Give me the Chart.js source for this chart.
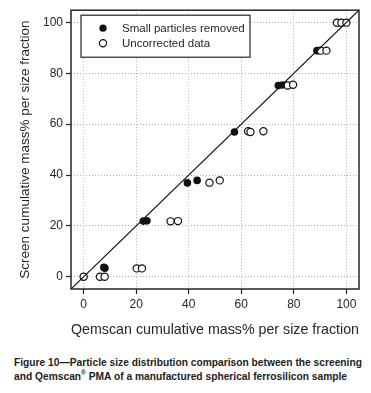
<!DOCTYPE html>
<html>
<head>
<meta charset="utf-8">
<script src="https://cdn.jsdelivr.net/npm/chart.js@4/dist/chart.umd.min.js"></script>
<style>
    html, body { margin: 0; padding: 0; background: #fff; }
    #wrap { position: relative; width: 371px; height: 393px; overflow: hidden; }
    #chart { position: absolute; left: 0; top: 0; }
    .caption {
        position: absolute; left: 14px; white-space: nowrap;
        font: bold 11px "Liberation Sans", Arial, sans-serif; color: #222;
        transform: scaleX(0.93); transform-origin: left top;
    }
</style>
</head>
<body>
<div id="wrap">
    <canvas id="chart" width="371" height="345"></canvas>
    <div class="caption" style="top:356px">Figure 10—Particle size distribution comparison between the screening</div>
    <div class="caption" style="top:370px">and Qemscan<sup style="font-size:7px;line-height:0">®</sup> PMA of a manufactured spherical ferrosilicon sample</div>
</div>
<script>
/** ── Données ──────────────────────────────────────────────────────── */
const TICKS = [0, 20, 40, 60, 80, 100];
const AXIS_MIN = -4.8;
const AXIS_MAX = 104.8;

// Small particles removed (points pleins)
const removedX = [0, 7.7, 8.1, 22.7, 24.1, 39.5, 43.2, 57.4, 74.1, 75.7, 88.8, 89.6, 96.4, 98.1];
const removedY = [0, 3.7, 3.4, 21.9, 22.0, 36.9, 37.9, 56.9, 75.2, 75.4, 88.9, 88.9, 99.9, 99.9];

// Uncorrected data (cercles vides)
const rawX = [0, 6.2, 8.0, 20.2, 22.2, 33.1, 35.9, 47.9, 51.8, 62.6, 63.5, 68.4, 77.7, 79.7, 90.3, 92.4, 96.4, 98.1, 100];
const rawY = [0, 0, 0, 3.3, 3.3, 21.8, 21.9, 37.0, 37.9, 57.2, 56.9, 57.2, 75.2, 75.5, 88.9, 88.9, 99.9, 99.9, 99.9];

const LABELS = ['Small particles removed', 'Uncorrected data'];
const X_TITLE = 'Qemscan cumulative mass% per size fraction';
const Y_TITLE = 'Screen cumulative mass% per size fraction';

/** ── Styles ───────────────────────────────────────────────────────── */
const INK = '#262626';
const GRID = '#b4b4b4';
const FONT = '"Liberation Sans", Arial, sans-serif';

const toPoints = (xs, ys) => xs.map((x, i) => ({ x, y: ys[i] }));

/** ── Plugins ──────────────────────────────────────────────────────── */
const frameAndLegend = {
    id: 'frameAndLegend',
    afterDraw(chart) {
        const { ctx, chartArea: a } = chart;
        ctx.save();
        ctx.strokeStyle = INK;
        ctx.lineWidth = 1.5;
        ctx.strokeRect(a.left, a.top, a.right - a.left, a.bottom - a.top);

        // légende encadrée en haut à gauche
        const bx = a.left + 10, by = a.top + 5, bw = 169, bh = 42;
        ctx.fillStyle = '#fff';
        ctx.fillRect(bx, by, bw, bh);
        ctx.lineWidth = 1.2;
        ctx.strokeRect(bx, by, bw, bh);

        ctx.font = `11.5px ${FONT}`;
        ctx.textBaseline = 'middle';
        LABELS.forEach((label, i) => {
            const cy = by + 13 + i * 15;
            ctx.beginPath();
            ctx.arc(bx + 22, cy, 3.6, 0, Math.PI * 2);
            if (i === 0) {
                ctx.fillStyle = '#111';
                ctx.fill();
            } else {
                ctx.lineWidth = 1.2;
                ctx.strokeStyle = '#111';
                ctx.stroke();
            }
            ctx.fillStyle = INK;
            ctx.fillText(label, bx + 41, cy + 0.5);
        });
        ctx.restore();
    },
};

const fixedTicks = scale => { scale.ticks = TICKS.map(value => ({ value })); };

const axis = (title, size, titlePad, extra) => ({
    type: 'linear',
    min: AXIS_MIN,
    max: AXIS_MAX,
    afterBuildTicks: fixedTicks,
    grid: {
        color: GRID,
        lineWidth: 1,
        tickColor: INK,
        tickLength: 5,
        tickWidth: 1.2,
        tickBorderDash: [],
    },
    border: { display: false, dash: [1, 2] },
    ticks: { color: INK, font: { family: FONT, size: 12 }, padding: 3, maxRotation: 0 },
    title: { display: true, text: title, color: INK, font: { family: FONT, size }, padding: titlePad },
    ...extra,
});

/** ── Graphique ────────────────────────────────────────────────────── */
new Chart(document.getElementById('chart').getContext('2d'), {
    type: 'scatter',
    data: {
        datasets: [
            {
                type: 'line',
                data: [{ x: AXIS_MIN, y: AXIS_MIN }, { x: AXIS_MAX, y: AXIS_MAX }],
                borderColor: '#111',
                borderWidth: 1.2,
                pointRadius: 0,
                order: 0,
            },
            {
                label: LABELS[1],
                data: toPoints(rawX, rawY),
                pointStyle: 'circle',
                pointRadius: 3.6,
                pointBorderWidth: 1.2,
                pointBorderColor: '#111',
                pointBackgroundColor: '#fff',
                order: 1,
            },
            {
                label: LABELS[0],
                data: toPoints(removedX, removedY),
                pointStyle: 'circle',
                pointRadius: 3.8,
                pointBorderWidth: 0,
                pointBackgroundColor: '#111',
                order: 2,
            },
        ],
    },
    options: {
        responsive: false,
        animation: false,
        events: [],
        layout: { padding: { top: 8, right: 12, left: 0, bottom: 0 } },
        scales: {
            x: axis(X_TITLE, 14.4, { top: 0, bottom: 6 }, {
                position: 'bottom',
                afterFit: s => { s.height = 56; },
            }),
            y: axis(Y_TITLE, 13.5, { top: 17, bottom: 0 }, {
                position: 'left',
                afterFit: s => { s.width = 71; },
            }),
        },
        plugins: { legend: { display: false }, tooltip: { enabled: false } },
    },
    plugins: [frameAndLegend],
});
</script>
</body>
</html>
